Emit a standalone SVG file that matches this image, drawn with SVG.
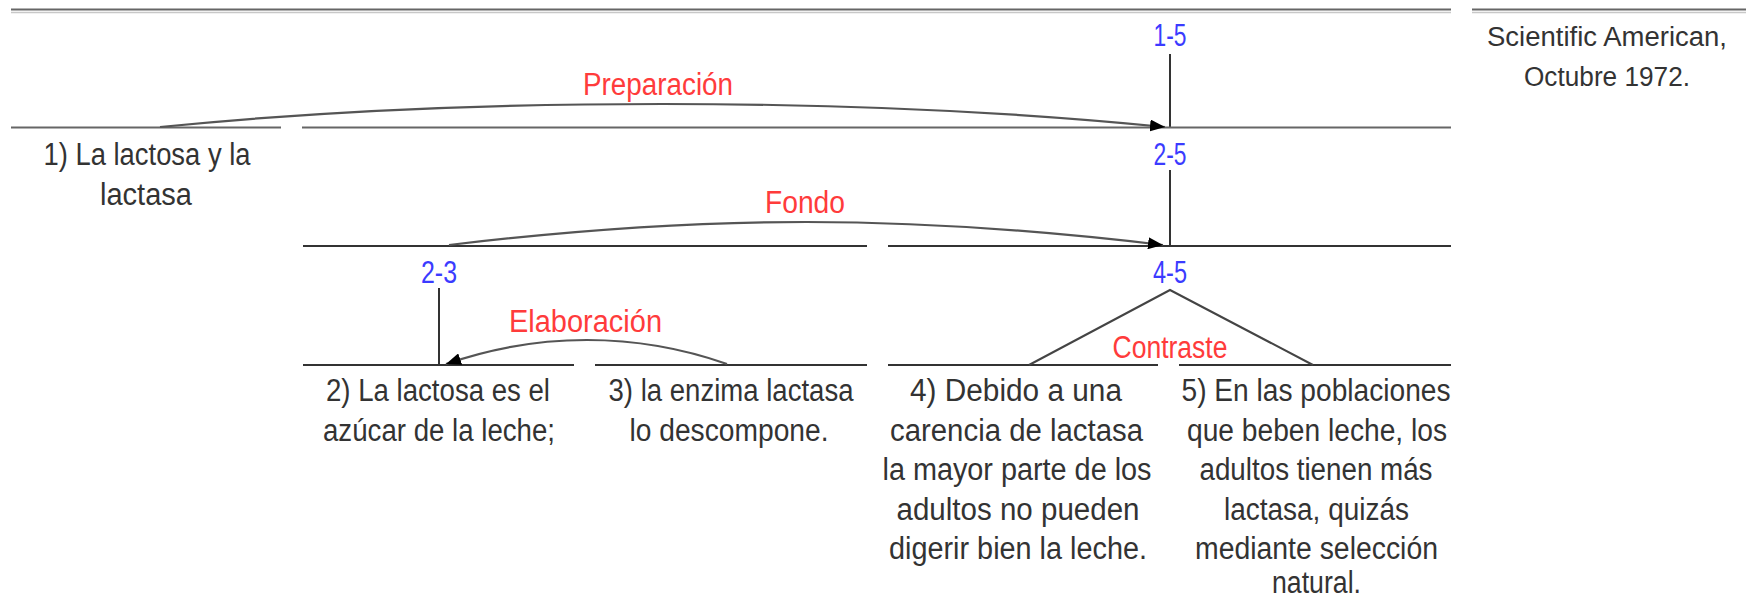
<svg xmlns="http://www.w3.org/2000/svg" width="1746" height="600" viewBox="0 0 1746 600">
<defs>
<style>
.bg{fill:#fff}
.hd{stroke:#666;stroke-width:2}
.hdl{stroke:#c8c8c8;stroke-width:1.5}
.s2{stroke:#666;stroke-width:2.2}
.s3{stroke:#333;stroke-width:2.2}
.v{stroke:#333;stroke-width:2}
.t{font-family:"Liberation Sans",Arial,sans-serif;font-size:31px;fill:#333;text-anchor:middle}
.ct{font-family:"Liberation Sans",Arial,sans-serif;font-size:27px;fill:#333;text-anchor:middle}
.sp{font-family:"Liberation Sans",Arial,sans-serif;font-size:31px;fill:#3b3bff;text-anchor:middle}
.rl{font-family:"Liberation Sans",Arial,sans-serif;font-size:31px;fill:#ff3b3b;text-anchor:middle}
.arc{fill:none;stroke:#555;stroke-width:2.2}
.tri{fill:none;stroke:#444;stroke-width:2}
</style>
<marker id="ah" markerUnits="userSpaceOnUse" markerWidth="16" markerHeight="12" refX="15" refY="6" orient="auto">
<path d="M0,0 L15,6 L0,12 z" fill="#000"/>
</marker>
</defs>
<rect class="bg" x="0" y="0" width="1746" height="600"/>

<g id="header">
<line class="hd" x1="11" y1="9.5" x2="1451" y2="9.5"/>
<line class="hdl" x1="11" y1="12.5" x2="1451" y2="12.5"/>
<line class="hd" x1="1472" y1="9.5" x2="1746" y2="9.5"/>
<line class="hdl" x1="1472" y1="12.5" x2="1746" y2="12.5"/>
</g>

<g id="citation">
<text class="ct" x="1607" y="46" textLength="240" lengthAdjust="spacingAndGlyphs">Scientific American,</text>
<text class="ct" x="1607" y="86" textLength="166" lengthAdjust="spacingAndGlyphs">Octubre 1972.</text>
</g>

<g id="span-1-5">
<text class="sp" x="1170" y="46" textLength="33" lengthAdjust="spacingAndGlyphs">1-5</text>
<line class="v" x1="1170" y1="54" x2="1170" y2="128"/>
<line class="s2" x1="302" y1="127.5" x2="1451" y2="127.5"/>
</g>

<g id="seg-1">
<line class="s2" x1="11" y1="127.5" x2="281" y2="127.5"/>
<text class="t" x="147" y="165" textLength="207" lengthAdjust="spacingAndGlyphs">1) La lactosa y la</text>
<text class="t" x="146" y="205" textLength="92" lengthAdjust="spacingAndGlyphs">lactasa</text>
</g>

<g id="span-2-5">
<text class="sp" x="1170" y="165" textLength="33" lengthAdjust="spacingAndGlyphs">2-5</text>
<line class="v" x1="1170" y1="170" x2="1170" y2="246"/>
<line class="s3" x1="888" y1="246" x2="1451" y2="246"/>
</g>

<g id="span-2-3">
<line class="s3" x1="303" y1="246" x2="867" y2="246"/>
<text class="sp" x="439" y="283" textLength="36" lengthAdjust="spacingAndGlyphs">2-3</text>
<line class="v" x1="439" y1="288" x2="439" y2="365"/>
</g>

<g id="span-4-5">
<text class="sp" x="1170" y="283" textLength="34" lengthAdjust="spacingAndGlyphs">4-5</text>
</g>

<g id="seg-2">
<line class="s3" x1="303" y1="365" x2="574" y2="365"/>
<text class="t" x="438" y="401" textLength="224" lengthAdjust="spacingAndGlyphs">2) La lactosa es el</text>
<text class="t" x="439" y="441" textLength="232" lengthAdjust="spacingAndGlyphs">azúcar de la leche;</text>
</g>

<g id="seg-3">
<line class="s3" x1="595" y1="365" x2="867" y2="365"/>
<text class="t" x="731" y="401" textLength="245" lengthAdjust="spacingAndGlyphs">3) la enzima lactasa</text>
<text class="t" x="729" y="441" textLength="199" lengthAdjust="spacingAndGlyphs">lo descompone.</text>
</g>

<g id="seg-4">
<line class="s3" x1="888" y1="365" x2="1158" y2="365"/>
<text class="t" x="1016" y="401" textLength="212" lengthAdjust="spacingAndGlyphs">4) Debido a una</text>
<text class="t" x="1016.5" y="441" textLength="253" lengthAdjust="spacingAndGlyphs">carencia de lactasa</text>
<text class="t" x="1017" y="480" textLength="269" lengthAdjust="spacingAndGlyphs">la mayor parte de los</text>
<text class="t" x="1018" y="520" textLength="243" lengthAdjust="spacingAndGlyphs">adultos no pueden</text>
<text class="t" x="1018" y="559" textLength="258" lengthAdjust="spacingAndGlyphs">digerir bien la leche.</text>
</g>

<g id="seg-5">
<line class="s3" x1="1179" y1="365" x2="1451" y2="365"/>
<text class="t" x="1316" y="401" textLength="269" lengthAdjust="spacingAndGlyphs">5) En las poblaciones</text>
<text class="t" x="1317" y="441" textLength="260" lengthAdjust="spacingAndGlyphs">que beben leche, los</text>
<text class="t" x="1316" y="480" textLength="233" lengthAdjust="spacingAndGlyphs">adultos tienen más</text>
<text class="t" x="1316.5" y="520" textLength="185" lengthAdjust="spacingAndGlyphs">lactasa, quizás</text>
<text class="t" x="1316.5" y="559" textLength="243" lengthAdjust="spacingAndGlyphs">mediante selección</text>
<text class="t" x="1316.5" y="593" textLength="89" lengthAdjust="spacingAndGlyphs">natural.</text>
</g>

<g id="connectors">
<path class="arc" d="M160,127 C467,96.3 858,96.3 1165,127" marker-end="url(#ah)"/>
<text class="rl" x="658" y="95" textLength="150" lengthAdjust="spacingAndGlyphs">Preparación</text>
<path class="arc" d="M449,245 C705,214.3 907,214.3 1163,245" marker-end="url(#ah)"/>
<text class="rl" x="805" y="213" textLength="80" lengthAdjust="spacingAndGlyphs">Fondo</text>
<path class="arc" d="M727,364 C636,332 538,332 446,364" marker-end="url(#ah)"/>
<text class="rl" x="585.5" y="332" textLength="153" lengthAdjust="spacingAndGlyphs">Elaboración</text>
<polyline class="tri" points="1029,365 1170,290 1313,365"/>
<text class="rl" x="1170" y="358" textLength="115" lengthAdjust="spacingAndGlyphs">Contraste</text>
</g>
</svg>
